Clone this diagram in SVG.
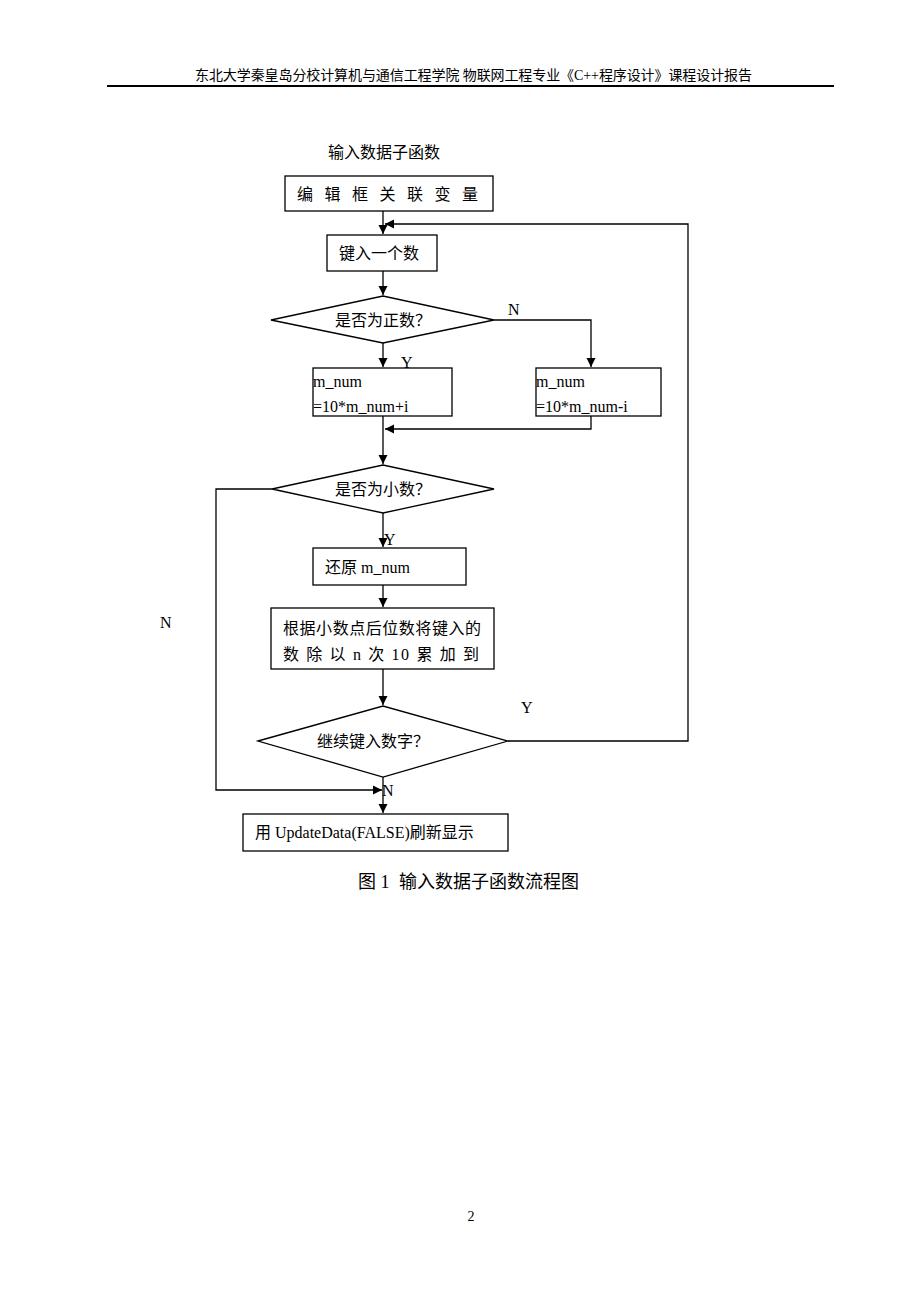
<svg xmlns="http://www.w3.org/2000/svg" width="920" height="1302" viewBox="0 0 920 1302">
<style>
text{font-family:"Liberation Serif","Noto Sans CJK SC",serif;fill:#000}
.t{font-size:16px}
.h{font-size:14px}
.c{font-size:18px}
.s{fill:#fff;stroke:#000;stroke-width:1.3}
.l{fill:none;stroke:#000;stroke-width:1.3}
</style>
<defs>
<marker id="a" markerWidth="10" markerHeight="10" refX="9" refY="5" orient="auto" markerUnits="userSpaceOnUse">
<path d="M0,0.5 L9,5 L0,9.5 Z" fill="#000"/>
</marker>
</defs>
<rect width="920" height="1302" fill="#fff"/>
<g id="header">
<text class="h" x="195" y="80" textLength="557" lengthAdjust="spacing">东北大学秦皇岛分校计算机与通信工程学院  物联网工程专业《C++程序设计》课程设计报告</text>
<line x1="107" y1="86" x2="834" y2="86" stroke="#000" stroke-width="2"/>
</g>
<text class="t" x="328" y="158">输入数据子函数</text>
<g id="connectors">
<path class="l" d="M383,211 V234" marker-end="url(#a)"/>
<path class="l" d="M508,741 H688 V224 H385" marker-end="url(#a)"/>
<path class="l" d="M383,271 V295" marker-end="url(#a)"/>
<path class="l" d="M494,320 H591 V367" marker-end="url(#a)"/>
<path class="l" d="M383,343 V367" marker-end="url(#a)"/>
<path class="l" d="M591,416 V429 H385" marker-end="url(#a)"/>
<path class="l" d="M383,416 V464" marker-end="url(#a)"/>
<path class="l" d="M272,489 H216 V790 H382" marker-end="url(#a)"/>
<path class="l" d="M383,513 V547" marker-end="url(#a)"/>
<path class="l" d="M383,585 V607" marker-end="url(#a)"/>
<path class="l" d="M383,669 V705" marker-end="url(#a)"/>
<path class="l" d="M383,777 V813" marker-end="url(#a)"/>
<text class="t" x="508" y="315">N</text>
<text class="t" x="401" y="368">Y</text>
<text class="t" x="160" y="628">N</text>
<text class="t" x="384" y="545">Y</text>
<text class="t" x="521" y="713">Y</text>
<text class="t" x="382" y="796">N</text>
</g>
<g id="n1"><rect class="s" x="285" y="176" width="208" height="35"/><text class="t" x="297" y="200" textLength="181" lengthAdjust="spacing">编辑框关联变量</text></g>
<g id="n2"><rect class="s" x="327" y="235" width="110" height="36"/><text class="t" x="339" y="259">键入一个数</text></g>
<g id="d1"><polygon class="s" points="271,320 383,296 494,320 383,343"/><text class="t" x="383" y="326" text-anchor="middle">是否为正数？</text></g>
<g id="n3"><rect class="s" x="313" y="368" width="139" height="48"/><text class="t" x="313" y="387">m_num</text><text class="t" x="313" y="412">=10*m_num+i</text></g>
<g id="n4"><rect class="s" x="536" y="368" width="125" height="48"/><text class="t" x="536" y="387">m_num</text><text class="t" x="536" y="412">=10*m_num-i</text></g>
<g id="d2"><polygon class="s" points="272,489 383,465 494,489 383,513"/><text class="t" x="383" y="495" text-anchor="middle">是否为小数？</text></g>
<g id="n5"><rect class="s" x="313" y="548" width="153" height="37"/><text class="t" x="325" y="573">还原 m_num</text></g>
<g id="n6"><rect class="s" x="271" y="608" width="223" height="61"/><text class="t" x="283" y="634" textLength="198" lengthAdjust="spacing">根据小数点后位数将键入的</text><text class="t" x="283" y="660" textLength="196" lengthAdjust="spacing">数 除 以 n 次 10 累 加 到</text></g>
<g id="d3"><polygon class="s" points="258,741 383,706 508,741 383,777"/><text class="t" x="373" y="747" text-anchor="middle">继续键入数字？</text></g>
<g id="n7"><rect class="s" x="243" y="814" width="265" height="37"/><text class="t" x="255" y="838">用 UpdateData(FALSE)刷新显示</text></g>
<text class="c" x="358" y="888">图 1<tspan x="399">输入数据子函数流程图</tspan></text>
<text class="h" x="471" y="1221" text-anchor="middle">2</text>
</svg>
